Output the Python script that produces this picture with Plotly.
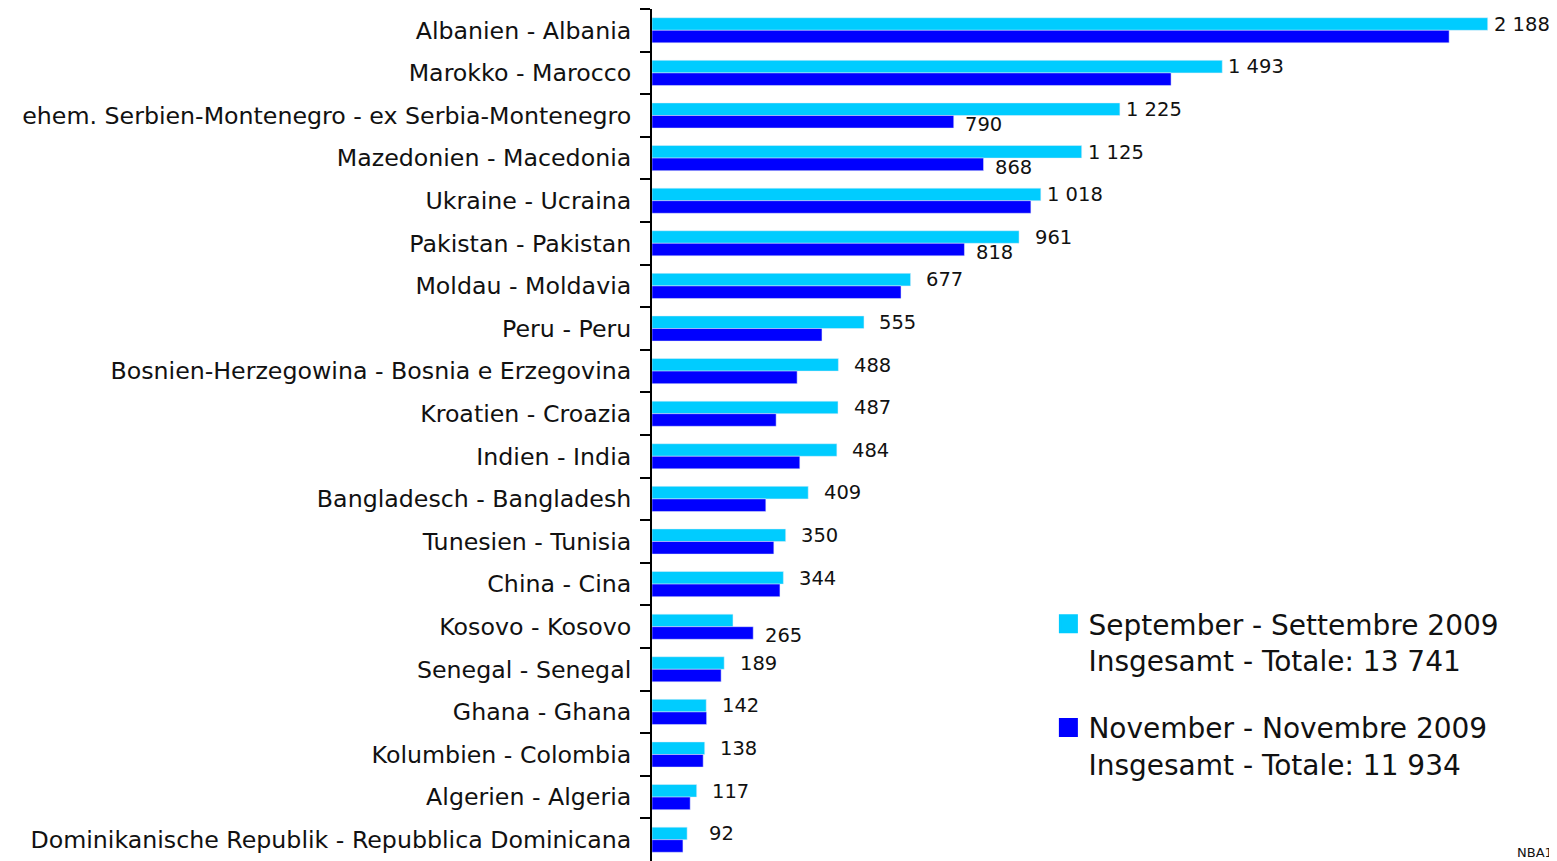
import plotly.graph_objects as go

categories = [
    "Albanien - Albania",
    "Marokko - Marocco",
    "ehem. Serbien-Montenegro - ex Serbia-Montenegro",
    "Mazedonien - Macedonia",
    "Ukraine - Ucraina",
    "Pakistan - Pakistan",
    "Moldau - Moldavia",
    "Peru - Peru",
    "Bosnien-Herzegowina - Bosnia e Erzegovina",
    "Kroatien - Croazia",
    "Indien - India",
    "Bangladesch - Bangladesh",
    "Tunesien - Tunisia",
    "China - Cina",
    "Kosovo - Kosovo",
    "Senegal - Senegal",
    "Ghana - Ghana",
    "Kolumbien - Colombia",
    "Algerien - Algeria",
    "Dominikanische Republik - Repubblica Dominicana",
]
sept_values = [2188, 1493, 1225, 1125, 1018, 961, 677, 555, 488, 487, 484, 409, 350, 344, 212, 189, 142, 138, 117, 92]
nov_values = [2087, 1359, 790, 868, 992, 818, 652, 445, 380, 325, 387, 298, 319, 335, 265, 181, 143, 134, 100, 81]
sept_labelled = [True] * 14 + [False] + [True] * 5
nov_labelled = [False, False, True, True, False, True, False, False, False, False,
                False, False, False, False, True, False, False, False, False, False]
sept_name = "September - Settembre 2009<br>Insgesamt - Totale: 13 741"
nov_name = "November - Novembre 2009<br>Insgesamt - Totale: 11 934"
sept_color = "#00CCFF"
nov_color = "#0000FF"


def fmt(v):
    return f"{v:,}".replace(",", " ")


FONT = "DejaVu Sans"
TXT = "#111111"

fig = go.Figure()
fig.add_trace(go.Bar(y=categories, x=sept_values, orientation="h", marker_color=sept_color,
                     showlegend=False, name="Sept"))
fig.add_trace(go.Bar(y=categories, x=nov_values, orientation="h", marker_color=nov_color,
                     showlegend=False, name="Nov"))
# legend entries
fig.add_trace(go.Scatter(x=[None], y=[None], mode="markers", name=sept_name, legendgroup="a",
                         marker=dict(symbol="square", size=16, color=sept_color,
                                     line=dict(color=sept_color, width=3))))
fig.add_trace(go.Scatter(x=[None], y=[None], mode="markers", name=nov_name, legendgroup="b",
                         marker=dict(symbol="square", size=16, color=nov_color,
                                     line=dict(color=nov_color, width=3))))

annotations = []
for c, v, show in zip(categories, sept_values, sept_labelled):
    if show:
        annotations.append(dict(x=v, y=c, text=fmt(v), showarrow=False, xanchor="center",
                                xshift=34, yshift=6, font=dict(family=FONT, size=19.5, color=TXT)))
for c, v, show in zip(categories, nov_values, nov_labelled):
    if show:
        annotations.append(dict(x=v, y=c, text=fmt(v), showarrow=False, xanchor="center",
                                xshift=30, yshift=-9, font=dict(family=FONT, size=19.5, color=TXT)))
annotations.append(dict(x=1, y=0, xref="paper", yref="paper", text="NBA1", showarrow=False,
                        xanchor="right", yanchor="bottom", xshift=-2, yshift=-1,
                        font=dict(family=FONT, size=13, color=TXT)))

# The page body adds an 8px margin, so the figure is 8px smaller to end at the window edge.
fig.update_layout(
    width=1549, height=853,
    margin=dict(l=644, r=0, t=1, b=0),
    paper_bgcolor="white", plot_bgcolor="white",
    barmode="group", bargap=0.41, bargroupgap=0,
    font=dict(family=FONT, size=20, color=TXT),
    annotations=annotations,
    legend=dict(x=0.438, y=0.3075, xanchor="left", yanchor="top", valign="top",
                font=dict(family=FONT, size=28, color=TXT), tracegroupgap=28,
                bgcolor="rgba(0,0,0,0)"),
    xaxis=dict(range=[0, 905 / 0.38195], visible=False, fixedrange=True),
    yaxis=dict(autorange="reversed", type="category", showline=True, linecolor="black",
               linewidth=2, ticks="outside", tickson="boundaries", ticklen=10, tickwidth=2,
               tickcolor="black", ticklabelstandoff=14, showgrid=False, zeroline=False,
               tickfont=dict(family=FONT, size=23.7, color=TXT)),
)

fig.write_html("out.html")
